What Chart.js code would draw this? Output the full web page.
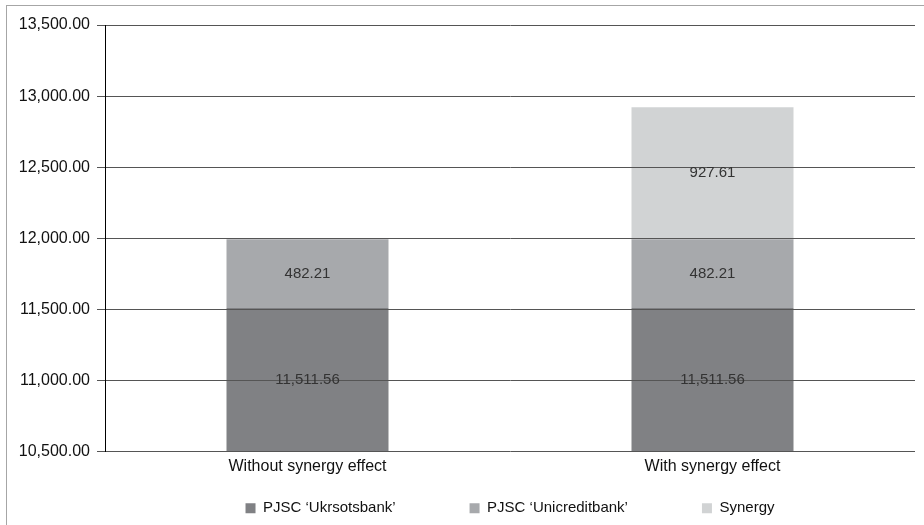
<html>
<head>
<title>Synergy effect</title>
<script src="https://cdn.jsdelivr.net/npm/chart.js@4.4.1/dist/chart.umd.min.js"></script>
<style>
    body { margin: 0; background: #fff; }
    #frame {
        position: absolute; left: 6px; top: 5px; width: 918px; height: 520px;
        border-top: 1px solid #a6a6a6; border-left: 1px solid #a6a6a6;
    }
    #myChart { position: absolute; left: 0; top: 0; }
</style>
</head>
<body>
<div id="frame"></div>
<canvas id="myChart" width="924" height="525"></canvas>
<script>
    // data
    let aCategories = ['Without synergy effect', 'With synergy effect'];
    let aUkrsotsbank = [11511.56, 11511.56];
    let aUnicreditbank = [482.21, 482.21];
    let aSynergy = [null, 927.61];
    let aSeriesNames = ['PJSC \u2018Ukrsotsbank\u2019', 'PJSC \u2018Unicreditbank\u2019', 'Synergy'];
    let yMin = 10500, yMax = 13500, yStep = 500;

    const sFont = '"Liberation Sans", Arial, sans-serif';

    function fmt(v) {
        return v.toLocaleString('en-US', {minimumFractionDigits: 2, maximumFractionDigits: 2});
    }

    // value labels in the middle of the visible part of each segment
    const barLabels = {
        id: 'barLabels',
        afterDraw(chart) {
            let ctx = chart.ctx, area = chart.chartArea;
            ctx.save();
            ctx.font = '15px ' + sFont;
            ctx.fillStyle = '#333';
            ctx.textAlign = 'center';
            ctx.textBaseline = 'middle';
            chart.data.datasets.forEach(function (ds, i) {
                chart.getDatasetMeta(i).data.forEach(function (bar, j) {
                    let v = ds.data[j];
                    if (v == null) return;
                    let top = Math.max(Math.min(bar.y, bar.base), area.top);
                    let bottom = Math.min(Math.max(bar.y, bar.base), area.bottom);
                    ctx.fillText(fmt(v), bar.x, (top + bottom) / 2);
                });
            });
            ctx.restore();
        }
    };

    // pull the legend up under the category labels
    const legendShift = {
        id: 'legendShift',
        afterLayout(chart) {
            let lg = chart.legend;
            let h = lg.bottom - lg.top;
            lg.top = chart.chartArea.bottom - 25;
            lg.bottom = lg.top + h;
        }
    };

    let ctx = document.getElementById('myChart').getContext('2d');
    let myChart = new Chart(ctx, {
        type: 'bar',
        data: {
            labels: aCategories,
            datasets: [{
                label: aSeriesNames[0],
                data: aUkrsotsbank,
                backgroundColor: '#808184'
            }, {
                label: aSeriesNames[1],
                data: aUnicreditbank,
                backgroundColor: '#a7a9ac'
            }, {
                label: aSeriesNames[2],
                data: aSynergy,
                backgroundColor: '#d1d3d4'
            }]
        },
        options: {
            responsive: false,
            animation: false,
            devicePixelRatio: 1,
            barPercentage: 0.4,
            categoryPercentage: 1.0,
            layout: { padding: { top: 25, right: 9, left: 0, bottom: -55 } },
            scales: {
                x: {
                    stacked: true,
                    grid: { display: false, drawTicks: false },
                    border: { display: false },
                    ticks: { font: { family: sFont, size: 16 }, color: '#111', padding: 5 }
                },
                y: {
                    stacked: true,
                    min: yMin,
                    max: yMax,
                    grid: { color: '#555', tickLength: 8, z: 1 },
                    border: { color: '#000', z: 2 },
                    ticks: {
                        stepSize: yStep,
                        font: { family: sFont, size: 16 },
                        color: '#111',
                        padding: 7,
                        callback: function (v) { return fmt(v); }
                    },
                    afterFit: function (scale) { scale.width = 105; }
                }
            },
            plugins: {
                tooltip: { enabled: false },
                legend: {
                    position: 'bottom',
                    fullSize: false,
                    labels: {
                        boxWidth: 10,
                        boxHeight: 10,
                        padding: 74,
                        color: '#111',
                        font: { family: sFont, size: 15 }
                    }
                }
            }
        },
        plugins: [barLabels, legendShift]
    });
</script>
</body>
</html>
